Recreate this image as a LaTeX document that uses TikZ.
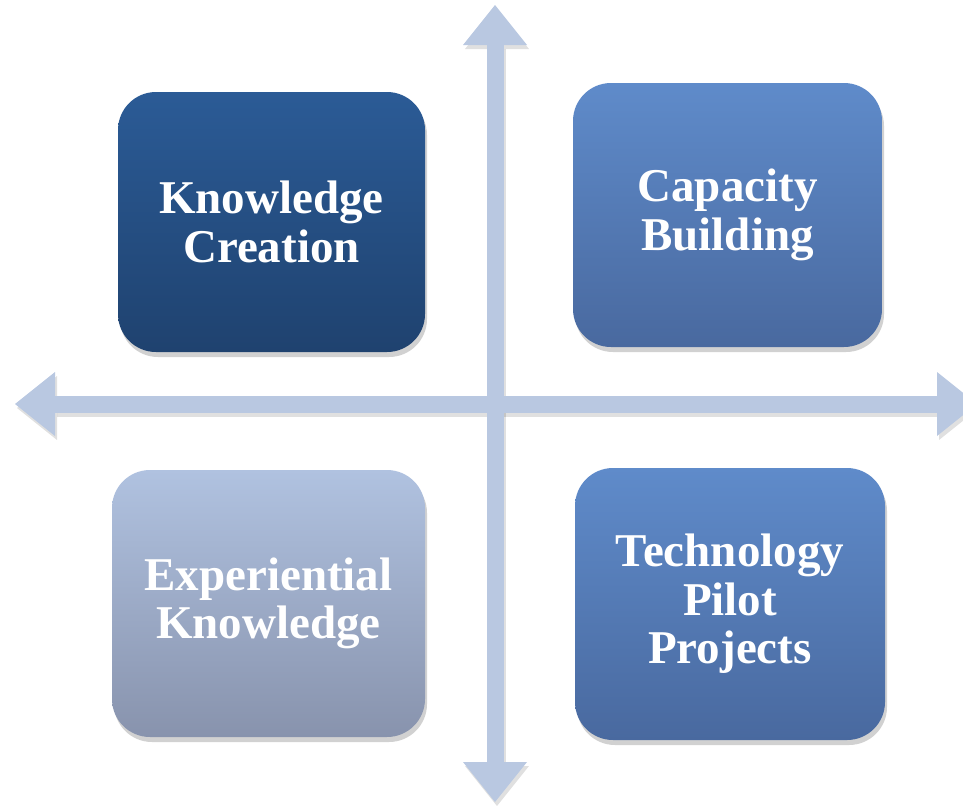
\documentclass[tikz,border=0pt]{standalone}
\usepackage{fontspec}
\setmainfont{Liberation Serif}
\usepackage{xcolor}
\usetikzlibrary{arrows.meta,positioning,shadows}

\definecolor{axisblue}{HTML}{B9C8E1}
\definecolor{darktop}{HTML}{2B5B96}
\definecolor{darkbot}{HTML}{1F426F}
\definecolor{midtop}{HTML}{5F8BCA}
\definecolor{midbot}{HTML}{49699F}
\definecolor{lighttop}{HTML}{B0C2E0}
\definecolor{lightbot}{HTML}{8893AD}

\begin{document}
\begin{tikzpicture}[
    x=1pt, y=-1pt,
    quad/.style={rectangle, rounded corners=38pt, inner sep=0pt, text=white,
        font=\fontsize{47}{48.5}\selectfont\bfseries, align=center,
        drop shadow={shadow xshift=2pt, shadow yshift=-5pt, opacity=0.18, fill=black}},
    axis/.style={line width=17pt, axisblue,
        {Triangle[width=64pt,length=40pt,line width=0pt]}-{Triangle[width=64pt,length=40pt,line width=0pt]}},
    axisshadow/.style={axis, black, opacity=0.12, transform canvas={xshift=2pt, yshift=-4pt}}
]
    \useasboundingbox (0,0) rectangle (963,806);
    \clip (0,0) rectangle (963,806);

    % Axis ends
    \coordinate (north) at (495,5);
    \coordinate (south) at (495,802);
    \coordinate (west) at (15,404);
    \coordinate (east) at (977,404);

    % Axes with soft shadow
    \draw[axisshadow] (north) -- (south);
    \draw[axisshadow] (west) -- (east);
    \draw[axis] (west) -- (east);
    \draw[axis] (north) -- (south);

    % Knowledge creation (top left)
    \node[quad, top color=darktop, bottom color=darkbot, minimum width=307pt, minimum height=260pt]
        (creation) at (271.5,222) {Knowledge\\Creation};

    % Capacity building (top right)
    \node[quad, top color=midtop, bottom color=midbot, minimum width=309pt, minimum height=264pt]
        (capacity) at (727.5,215) {Capacity\\Building};

    % Experiential knowledge (bottom left)
    \node[quad, top color=lighttop, bottom color=lightbot, minimum width=313pt, minimum height=267pt]
        (experience) at (268.5,603.5) {Experiential\\Knowledge};

    % Technology pilot projects (bottom right)
    \node[quad, top color=midtop, bottom color=midbot, minimum width=310pt, minimum height=272pt]
        (pilot) at (730,604) {Technology\\Pilot\\Projects};

\end{tikzpicture}
\end{document}
